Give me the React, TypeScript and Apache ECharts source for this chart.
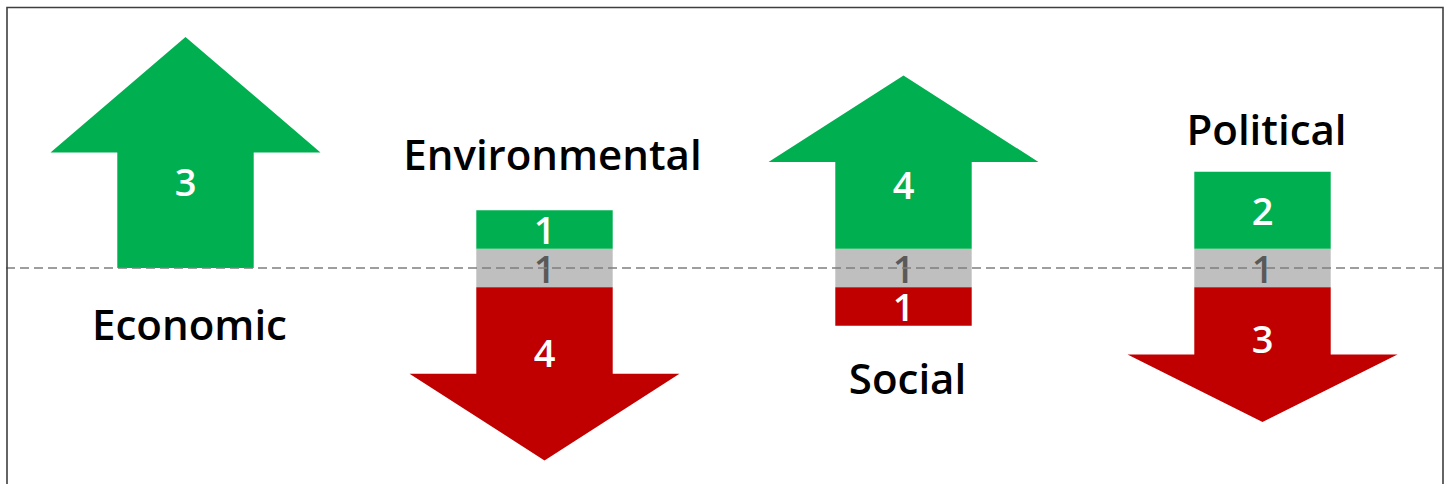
import React, { useEffect, useRef } from "react";
import * as echarts from "echarts";

// Counts of positive / neutral / negative findings per dimension
const categories = ["Economic", "Environmental", "Social", "Political"];
const positive = [3, 1, 4, 2];
const neutral = [0, 1, 1, 1];
const negative = [0, 4, 1, 3];
// Drawn length of the dominant (arrow-shaped) segment, in value units
const arrowLength = [6, 4.5, 4.5, 3.5];

const GREEN = "#00B050";
const RED = "#C00000";
const GREY = "#BFBFBF";
const FONT = '"Open Sans", "Noto Sans", sans-serif';

// Pixel gap between the end of each stack and the centre of its name, and its sideways nudge
const NAME_GAP = [56, 57, 52, 43];
const NAME_SHIFT = [4, 8, 4, 4];

function textEl(
  x: number,
  y: number,
  text: string,
  fill: string,
  size: number,
  weight: number,
  lineHeight: number
) {
  return {
    type: "text",
    x,
    y,
    z2: 20,
    style: {
      text,
      fill,
      fontSize: size,
      fontWeight: weight,
      fontFamily: FONT,
      lineHeight,
      align: "center",
      verticalAlign: "middle",
      textAlign: "center",
      textVerticalAlign: "middle",
    },
  };
}

function renderItem(params: any, api: any) {
  const i = api.value(0);
  const pos = api.value(1);
  const neu = api.value(2);
  const neg = api.value(3);
  const len = api.value(4);
  const cx = api.coord([i, 0])[0];
  const py = (v: number) => api.coord([i, v])[1];
  const band = api.size([1, 0])[0];
  const bw = band * 0.38;
  const hw = band * 0.752;
  const children: any[] = [];

  const upArrow = pos >= neg && pos > 0;
  const downArrow = neg > pos;

  const rect = (v1: number, v2: number, color: string) => {
    const yTop = py(v1);
    const yBot = py(v2);
    children.push({
      type: "rect",
      shape: { x: cx - bw / 2, y: yTop, width: bw, height: yBot - yTop },
      style: { fill: color },
    });
    return (yTop + yBot) / 2;
  };

  const arrow = (base: number, tip: number, color: string) => {
    const b = py(base);
    const t = py(tip);
    const m = (b + t) / 2;
    children.push({
      type: "polygon",
      shape: {
        points: [
          [cx - bw / 2, b],
          [cx - bw / 2, m],
          [cx - hw / 2, m],
          [cx, t],
          [cx + hw / 2, m],
          [cx + bw / 2, m],
          [cx + bw / 2, b],
        ],
      },
      style: { fill: color },
    });
    return b + (t - b) * 0.375;
  };

  const half = neu / 2;
  let stackTop = half;
  let stackBottom = -half;

  if (neu > 0) {
    const ly = rect(half, -half, GREY);
    children.push(textEl(cx, ly, String(neu), "#595959", 38, 600, 26));
  }
  if (pos > 0) {
    let ly;
    if (upArrow) {
      ly = arrow(half, half + len, GREEN);
      stackTop = half + len;
    } else {
      ly = rect(half + pos, half, GREEN);
      stackTop = half + pos;
    }
    children.push(textEl(cx, ly, String(pos), "#FFFFFF", 38, 600, 26));
  }
  if (neg > 0) {
    let ly;
    if (downArrow) {
      ly = arrow(-half, -half - len, RED);
      stackBottom = -half - len;
    } else {
      ly = rect(-half, -half - neg, RED);
      stackBottom = -half - neg;
    }
    children.push(textEl(cx, ly, String(neg), "#FFFFFF", 38, 600, 26));
  }

  // Dimension name sits at the end opposite the arrow
  const nameY = upArrow ? py(stackBottom) + NAME_GAP[i] : py(stackTop) - NAME_GAP[i];
  children.push(textEl(cx + NAME_SHIFT[i], nameY, categories[i], "#000000", 42, 600, 44));

  return { type: "group", children };
}

export default function App() {
  const ref = useRef<HTMLDivElement>(null);

  useEffect(() => {
    if (!ref.current) return;
    const chart = echarts.init(ref.current, undefined, { renderer: "svg" });
    chart.setOption({
      animation: false,
      backgroundColor: "#FFFFFF",
      grid: { left: 6, right: 5, top: 8, bottom: 0 },
      xAxis: {
        type: "category",
        data: categories,
        show: false,
      },
      yAxis: {
        type: "value",
        min: -5.61,
        max: 6.75,
        show: false,
      },
      graphic: [
        {
          type: "rect",
          z: 100,
          shape: { x: 7, y: 7.5, width: 1436, height: 600 },
          style: { fill: "none", stroke: "#3F3F3F", lineWidth: 1.6 },
        },
      ],
      series: [
        {
          type: "custom",
          z: 2,
          renderItem,
          data: categories.map((_, i) => [i, positive[i], neutral[i], negative[i], arrowLength[i]]),
        },
        {
          type: "line",
          z: 10,
          data: [],
          markLine: {
            silent: true,
            symbol: "none",
            label: { show: false },
            lineStyle: { color: "#7F7F7F", width: 1.5, type: [9, 5] },
            data: [{ yAxis: 0 }],
          },
        },
      ],
    });
    return () => chart.dispose();
  }, []);

  return (
    <div
      ref={ref}
      style={{ position: "absolute", left: 0, top: 0, width: 1447, height: 484 }}
    />
  );
}
